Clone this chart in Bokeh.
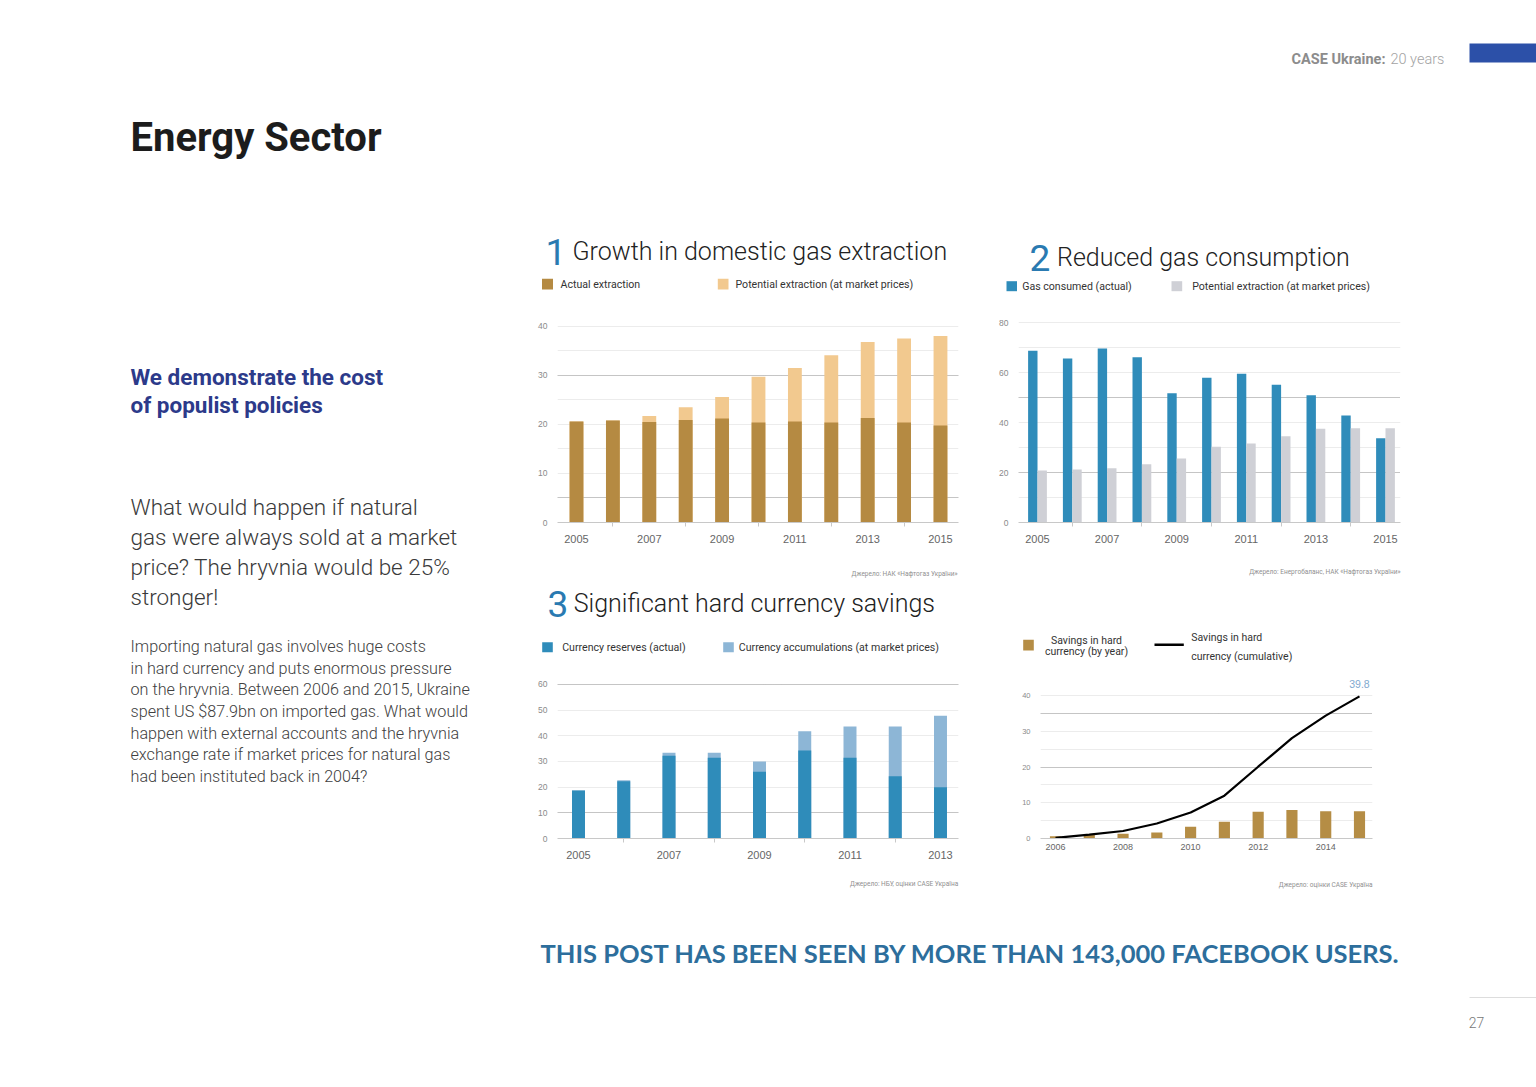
from bokeh.plotting import figure
from bokeh.models import Range1d, FixedTicker, Grid, Label, ColumnDataSource
from bokeh.layouts import row, column
from bokeh.embed import file_html
from bokeh.resources import INLINE
from bokeh.core.properties import value
from bokeh.transform import dodge

# ---------------- data ----------------
years_extraction = [2005, 2006, 2007, 2008, 2009, 2010, 2011, 2012, 2013, 2014, 2015]
actual_extraction = [20.6, 20.8, 20.5, 20.9, 21.2, 20.4, 20.6, 20.4, 21.3, 20.4, 19.8]
potential_extraction = [20.6, 20.8, 21.7, 23.5, 25.6, 29.7, 31.5, 34.1, 36.8, 37.5, 38.0]

years_consumption = [2005, 2006, 2007, 2008, 2009, 2010, 2011, 2012, 2013, 2014, 2015]
gas_consumed = [68.7, 65.6, 69.6, 66.1, 51.7, 57.9, 59.5, 55.1, 50.9, 42.8, 33.7]
potential_consumption = [20.8, 21.2, 21.7, 23.3, 25.6, 30.3, 31.6, 34.5, 37.5, 37.7, 37.7]

years_currency = [2005, 2006, 2007, 2008, 2009, 2010, 2011, 2012, 2013]
currency_reserves = [18.7, 22.3, 32.2, 31.4, 26.0, 34.3, 31.4, 24.2, 20.0]
currency_accumulations = [18.7, 22.7, 33.4, 33.4, 30.0, 41.8, 43.6, 43.6, 47.8]

years_savings = [2006, 2007, 2008, 2009, 2010, 2011, 2012, 2013, 2014, 2015]
savings_by_year = [0.6, 1.0, 1.3, 1.7, 3.3, 4.7, 7.5, 8.0, 7.6, 7.6]
savings_cumulative = [0.2, 1.1, 2.1, 4.2, 7.3, 12.0, 20.1, 28.1, 34.4, 39.8]

yticks_1 = [0, 10, 20, 30, 40]
yticks_2 = [0, 20, 40, 60, 80]
yticks_3 = [0, 10, 20, 30, 40, 50, 60]
yticks_4 = [0, 10, 20, 30, 40]

xlabels_1 = [2005, 2007, 2009, 2011, 2013, 2015]
xlabels_3 = [2005, 2007, 2009, 2011, 2013]
xlabels_4 = [2006, 2008, 2010, 2012, 2014]

# ---------------- styles ----------------
FONT = "Roboto"
LIGHT = "Roboto Light"
TICK_FONT = "Liberation Sans"
C_ACT = "#b58a42"
C_POT = "#f2c98f"
C_BLUE = "#2f8cba"
C_GRAY = "#cfd0d6"
C_LBLUE = "#8db6d6"
C_GOLD = "#b58d45"
C_NUM = "#2a7ab1"
GRID_LIGHT = "#ececec"
GRID_DOT = "#8a8a8a"
AXIS = "#c8c8c8"
LEG = 10.6


def text_fig(w, h):
    p = figure(width=w, height=h, x_range=Range1d(0, w), y_range=Range1d(h, 0),
               output_backend="svg", toolbar_location=None,
               x_axis_location=None, y_axis_location=None, min_border=0)
    p.outline_line_color = None
    p.grid.visible = False
    return p


def txt(p, x, y, s, size, color="#333333", font=FONT, style="normal",
        align="left", baseline="alphabetic"):
    p.text(x=[x], y=[y], text=[s], text_font=value(font), text_font_size=f"{size}px",
           text_color=color, text_font_style=style, text_align=align,
           text_baseline=baseline)


def square(p, x0, x1, y0, y1, color):
    p.quad(left=[x0], right=[x1], top=[y0], bottom=[y1], fill_color=color, line_color=None)


def make_chart(width, height, xr, yr, borders, yticks, light, dotted,
               label_years, minor_years, xfs, yfs, xstand):
    bl, br, bt, bb = borders
    p = figure(width=width, height=height, x_range=Range1d(*xr), y_range=Range1d(*yr),
               output_backend="svg", toolbar_location=None,
               min_border_left=bl, min_border_right=br,
               min_border_top=bt, min_border_bottom=bb)
    p.outline_line_color = None
    p.xgrid.visible = False
    p.ygrid.visible = False
    p.add_layout(Grid(dimension=1, ticker=FixedTicker(ticks=light),
                      grid_line_color=GRID_LIGHT, grid_line_width=1))
    p.add_layout(Grid(dimension=1, ticker=FixedTicker(ticks=dotted),
                      grid_line_color=GRID_DOT, grid_line_dash="1 1", grid_line_width=1))
    xa = p.xaxis[0]
    xa.ticker = FixedTicker(ticks=label_years, minor_ticks=minor_years)
    xa.axis_line_color = AXIS
    xa.major_tick_line_color = None
    xa.major_tick_in = 0
    xa.major_tick_out = 0
    xa.minor_tick_line_color = AXIS if minor_years else None
    xa.minor_tick_in = 0
    xa.minor_tick_out = 4
    xa.major_label_standoff = xstand
    xa.major_label_text_font = TICK_FONT
    xa.major_label_text_font_size = f"{xfs}px"
    xa.major_label_text_color = "#666666"
    ya = p.yaxis[0]
    ya.ticker = FixedTicker(ticks=yticks)
    ya.axis_line_color = None
    ya.major_tick_line_color = None
    ya.minor_tick_line_color = None
    ya.major_tick_in = 0
    ya.major_tick_out = 0
    ya.major_label_standoff = 10
    ya.major_label_text_font = TICK_FONT
    ya.major_label_text_font_size = f"{yfs}px"
    ya.major_label_text_color = "#8a8a8a"
    return p


# ---------------- left text column ----------------
left = text_fig(530, 1087)
txt(left, 130, 137, "Energy Sector", 40, "#1c1c1c", FONT, "bold")
txt(left, 130, 376, "We demonstrate the cost", 22.5, "#2c3a8a", FONT, "bold")
txt(left, 130, 404, "of populist policies", 22.5, "#2c3a8a", FONT, "bold")
para_big = ["What would happen if natural", "gas were always sold at a market",
            "price? The hryvnia would be 25%", "stronger!"]
for i, s in enumerate(para_big):
    txt(left, 130, 506.5 + 30 * i, s, 22.5, "#3a3a3a", LIGHT)
para_small = ["Importing natural gas involves huge costs",
              "in hard currency and puts enormous pressure",
              "on the hryvnia. Between 2006 and 2015, Ukraine",
              "spent US $87.9bn on imported gas. What would",
              "happen with external accounts and the hryvnia",
              "exchange rate if market prices for natural gas",
              "had been instituted back in 2004?"]
for i, s in enumerate(para_small):
    txt(left, 130, 646 + 21.67 * i, s, 16.2, "#404040", LIGHT)

# ---------------- header (titles 1, 2 and legends) ----------------
head = text_fig(1006, 310)
txt(head, 855, 59, "CASE Ukraine:", 14.5, "#8c8c8c", FONT, "bold", "right")
txt(head, 860, 59, "20 years", 14.5, "#a3a3a3", LIGHT)
square(head, 939, 1006, 43, 62, "#2c50a8")
txt(head, 15, 251, "1", 37, C_NUM, FONT)
txt(head, 42, 251, "Growth in domestic gas extraction", 25, "#222222", LIGHT)
square(head, 11.5, 22.5, 278.3, 289, C_ACT)
txt(head, 30, 283.7, "Actual extraction", LEG, "#333333", FONT, baseline="middle")
square(head, 187.3, 198, 278.3, 289, C_POT)
txt(head, 205, 283.7, "Potential extraction (at market prices)", LEG, "#333333", FONT, baseline="middle")
txt(head, 499, 257, "2", 37, C_NUM, FONT)
txt(head, 526.5, 257, "Reduced gas consumption", 25, "#222222", LIGHT)
square(head, 476, 486.5, 280.7, 290.7, C_BLUE)
txt(head, 491.7, 285.7, "Gas consumed (actual)", LEG, "#333333", FONT, baseline="middle")
square(head, 641, 651.7, 280.7, 290.7, C_GRAY)
txt(head, 661.7, 285.7, "Potential extraction (at market prices)", LEG, "#333333", FONT, baseline="middle")

# ---------------- chart 1 ----------------
c1 = make_chart(445, 238, (2004.478, 2015.495), (0, 42), (27, 17, 6, 26), yticks_1,
                [10, 15, 20, 25, 35, 40], [5, 30], xlabels_1,
                [y for y in years_extraction if y not in xlabels_1], 11, 8.5, 8)
src1 = ColumnDataSource(dict(year=years_extraction, actual=actual_extraction,
                             potential=potential_extraction))
c1.vbar(x="year", top="potential", bottom=0, width=0.38, source=src1,
        fill_color=C_POT, line_color=None)
c1.vbar(x="year", top="actual", bottom=0, width=0.38, source=src1,
        fill_color=C_ACT, line_color=None)

# ---------------- chart 2 ----------------
c2 = make_chart(561, 238, (2004.454, 2015.431), (0, 82.4), (43, 136, 6, 26), yticks_2,
                [10, 30, 40, 60, 70, 80], [20, 50], xlabels_1,
                [y for y in years_consumption if y not in xlabels_1], 11, 8.5, 8)
src2 = ColumnDataSource(dict(year=years_consumption, consumed=gas_consumed,
                             potential=potential_consumption))
c2.vbar(x=dodge("year", -0.135, range=c2.x_range), top="consumed", bottom=0, width=0.27,
        source=src2, fill_color=C_BLUE, line_color=None)
c2.vbar(x=dodge("year", 0.135, range=c2.x_range), top="potential", bottom=0, width=0.27,
        source=src2, fill_color=C_GRAY, line_color=None)

# ---------------- middle band (sources, title 3, legends 3 & 4) ----------------
mid = text_fig(1006, 120)
txt(mid, 427, 25.3, "Джерело: НАК «Нафтогаз України»", 6.5, "#8f8f8f", FONT, align="right", baseline="middle")
txt(mid, 870, 23.7, "Джерело: Енергобаланс, НАК «Нафтогаз України»", 6.5, "#8f8f8f", FONT, align="right", baseline="middle")
txt(mid, 17, 55, "3", 37, C_NUM, FONT)
txt(mid, 43.3, 55, "Significant hard currency savings", 25, "#222222", LIGHT)
square(mid, 11.7, 22.3, 93.7, 103.7, C_BLUE)
txt(mid, 31.7, 98.7, "Currency reserves (actual)", LEG, "#333333", FONT, baseline="middle")
square(mid, 192.7, 203.3, 93.7, 103.7, C_LBLUE)
txt(mid, 208.3, 98.7, "Currency accumulations (at market prices)", LEG, "#333333", FONT, baseline="middle")
square(mid, 492.7, 503.3, 91.3, 102, C_GOLD)
txt(mid, 556, 92, "Savings in hard", 10.5, "#333333", FONT, align="center")
txt(mid, 556, 102.7, "currency (by year)", 10.5, "#333333", FONT, align="center")
mid.line(x=[624, 653.3], y=[96.3, 96.3], line_color="black", line_width=2.5)
txt(mid, 660.7, 89.3, "Savings in hard", 10.5, "#333333", FONT)
txt(mid, 660.7, 108, "currency (cumulative)", 10.5, "#333333", FONT)

# ---------------- chart 3 ----------------
c3 = make_chart(445, 200, (2004.536, 2013.398), (0, 62.3), (27, 17, 10, 30), yticks_3,
                [20, 30, 40, 50], [10, 60], xlabels_3,
                [y for y in years_currency if y not in xlabels_3], 11, 8.5, 8)
src3 = ColumnDataSource(dict(year=years_currency, reserves=currency_reserves,
                             accum=currency_accumulations))
c3.vbar(x="year", top="accum", bottom=0, width=0.287, source=src3,
        fill_color=C_LBLUE, line_color=None)
c3.vbar(x="year", top="reserves", bottom=0, width=0.287, source=src3,
        fill_color=C_BLUE, line_color=None)

# ---------------- chart 4 ----------------
c4 = make_chart(561, 200, (2005.556, 2015.385), (0, 44.8), (65, 164, 10, 25), yticks_4,
                [5, 10, 15, 25, 30, 40], [20, 35], xlabels_4, [], 9, 7.5, 5)
src4 = ColumnDataSource(dict(year=years_savings, by_year=savings_by_year,
                             cumulative=savings_cumulative))
c4.vbar(x="year", top="by_year", bottom=0, width=0.33, source=src4,
        fill_color=C_GOLD, line_color=None)
c4.line(x="year", y="cumulative", source=src4, line_color="black", line_width=2.2)
c4.add_layout(Label(x=years_savings[-1], y=savings_cumulative[-1], text=f"{savings_cumulative[-1]}",
                    text_align="center", text_baseline="bottom", y_offset=8,
                    text_font=TICK_FONT, text_font_size="10.5px", text_color="#7fa9cf"))

# ---------------- bottom band ----------------
bot = text_fig(1006, 219)
txt(bot, 427.7, 15.3, "Джерело: НБУ, оцінки CASE Україна", 6.5, "#8f8f8f", FONT, align="right", baseline="middle")
txt(bot, 842, 16, "Джерело: оцінки CASE Україна", 6.5, "#8f8f8f", FONT, align="right", baseline="middle")
txt(bot, 10, 84, "THIS POST HAS BEEN SEEN BY MORE THAN 143,000 FACEBOOK USERS.", 25.5,
    "#2d6e9c", "Lato", "bold")
bot.line(x=[939, 1006], y=[129, 129], line_color="#dddddd", line_width=1)
txt(bot, 946, 154, "27", 14, "#777777", LIGHT, align="center", baseline="middle")

layout = row(left, column(head, row(c1, c2), mid, row(c3, c4), bot))

open("out.html", "w").write(file_html(layout, INLINE))
